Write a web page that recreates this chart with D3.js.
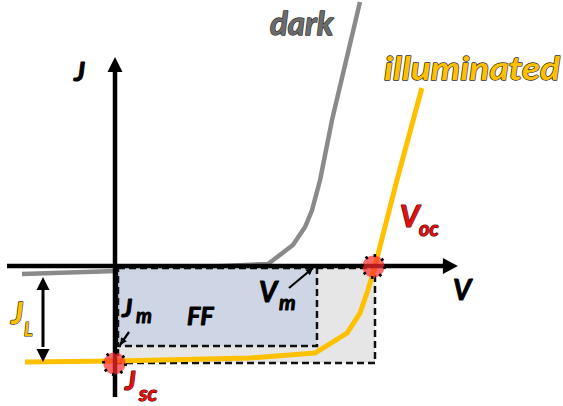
<!DOCTYPE html>
<html>
<head>
<meta charset="utf-8">
<script src="https://cdn.jsdelivr.net/npm/d3@7"></script>
<style>
  html, body { margin: 0; padding: 0; background: #fff; }
  svg { display: block; }
  text { font-family: Lato, "Open Sans", sans-serif; font-weight: 700; font-style: italic; }
</style>
</head>
<body>
<svg id="chart" width="563" height="406"></svg>
<script>
// Dark J-V curve (V, J), normalised so Voc = 1 and Jsc = -1
const darkV = [-0.363, 0, 0.587, 0.683, 0.730, 0.757, 0.788, 0.834, 0.942];
const darkJ = [-0.082, -0.052, 0.021, 0.216, 0.402, 0.577, 0.887, 1.505, 2.722];

// Illuminated J-V curve
const illumV = [-0.351, 0, 0.517, 0.768, 0.892, 0.942, 0.973, 1.0, 1.085, 1.181];
const illumJ = [-0.990, -0.979, -0.948, -0.897, -0.691, -0.485, -0.247, 0, 0.887, 1.835];

// Characteristic points
const Voc = 1.0, Jsc = -1.0;
const Vm = 0.776, Jm = -0.825;

// Axis extents in data units
const vAxisExtent = [-0.421, 1.320];
const jAxisExtent = [-1.351, 2.155];

const svg = d3.select("#chart");
const x = d3.scaleLinear().domain([0, 1]).range([116, 375]);
const y = d3.scaleLinear().domain([0, -1]).range([266, 363]);

const line = d3.line().x(d => x(d[0])).y(d => y(d[1]));
const darkPts = d3.zip(darkV, darkJ);
const illumPts = d3.zip(illumV, illumJ);

// dark curve (drawn beneath the power rectangles)
svg.append("path").attr("d", line(darkPts))
  .attr("fill", "none").attr("stroke", "#8a8a8a").attr("stroke-width", 4.5)
  .attr("stroke-linejoin", "round");

// maximum-power and ideal rectangles
const inset = 2;
svg.append("rect")
  .attr("x", x(0) + inset).attr("y", y(0) + inset)
  .attr("width", x(Voc) - x(0) - inset).attr("height", y(Jsc) - y(0) - inset)
  .attr("fill", "#e3e3e3").attr("fill-opacity", 0.9)
  .attr("stroke", "#111").attr("stroke-width", 2.5).attr("stroke-dasharray", "7,4");
svg.append("rect")
  .attr("x", x(0) + inset).attr("y", y(0) + inset)
  .attr("width", x(Vm) - x(0) - inset).attr("height", y(Jm) - y(0) - inset)
  .attr("fill", "#c9d2e5").attr("fill-opacity", 0.85)
  .attr("stroke", "#111").attr("stroke-width", 2.5).attr("stroke-dasharray", "7,4");

// illuminated curve
svg.append("path").attr("d", line(illumPts))
  .attr("fill", "none").attr("stroke", "#ffc000").attr("stroke-width", 5)
  .attr("stroke-linejoin", "round");

// axes with arrowheads
const ax = svg.append("g").attr("fill", "#000");
ax.append("line")
  .attr("x1", x(vAxisExtent[0])).attr("x2", x(vAxisExtent[1]) - 12)
  .attr("y1", y(0)).attr("y2", y(0))
  .attr("stroke", "#000").attr("stroke-width", 4.5);
ax.append("path").attr("d", (() => {
  const tx = x(vAxisExtent[1]), ty = y(0);
  return `M${tx},${ty} L${tx - 15},${ty - 8} L${tx - 15},${ty + 8} Z`;
})());
ax.append("line")
  .attr("x1", x(0) - 1).attr("x2", x(0) - 1)
  .attr("y1", y(jAxisExtent[0])).attr("y2", y(jAxisExtent[1]) + 12)
  .attr("stroke", "#000").attr("stroke-width", 4.5);
ax.append("path").attr("d", (() => {
  const tx = x(0) - 1, ty = y(jAxisExtent[1]);
  return `M${tx},${ty} L${tx - 7.5},${ty + 15} L${tx + 7.5},${ty + 15} Z`;
})());

// JL double-headed arrow
const jlX = 43;
svg.append("line").attr("x1", jlX).attr("x2", jlX)
  .attr("y1", y(0) + 20).attr("y2", y(Jsc) - 16)
  .attr("stroke", "#000").attr("stroke-width", 3);
svg.append("path").attr("fill", "#000")
  .attr("d", `M${jlX},${y(0) + 11} L${jlX - 6.5},${y(0) + 24} L${jlX + 6.5},${y(0) + 24} Z`);
svg.append("path").attr("fill", "#000")
  .attr("d", `M${jlX},${y(Jsc) - 1} L${jlX - 6.5},${y(Jsc) - 14} L${jlX + 6.5},${y(Jsc) - 14} Z`);

// small pointer arrows
function pointer(x1, y1, x2, y2) {
  svg.append("line").attr("x1", x1).attr("y1", y1).attr("x2", x2).attr("y2", y2)
    .attr("stroke", "#000").attr("stroke-width", 2.2);
  const a = Math.atan2(y2 - y1, x2 - x1), L = 7, W = 3.5;
  const bx = x2 - L * Math.cos(a), by = y2 - L * Math.sin(a);
  svg.append("path").attr("fill", "#000")
    .attr("d", `M${x2},${y2} L${bx + W * Math.sin(a)},${by - W * Math.cos(a)} L${bx - W * Math.sin(a)},${by + W * Math.cos(a)} Z`);
}
pointer(129, 332, 120, 345);
pointer(289, 288, 313, 268);

// Jsc and Voc markers
[[0, Jsc], [Voc, 0]].forEach(([v, j]) => {
  svg.append("circle").attr("cx", x(v) - 1.5).attr("cy", y(j) + 0.5).attr("r", 11)
    .attr("fill", "#ff2a2a").attr("fill-opacity", 0.7)
    .attr("stroke", "#000").attr("stroke-width", 3).attr("stroke-dasharray", "2.5,6.1");
});

// labels (outlined for a heavier look)
function label(txt, px, py, size, fill, stroke, sw, extra) {
  const t = svg.append("text").attr("x", px).attr("y", py)
    .attr("font-size", size).attr("fill", fill).text(txt)
    .attr("stroke", stroke).attr("stroke-width", sw)
    .attr("stroke-linejoin", "round").attr("paint-order", "stroke");
  if (extra) extra(t);
  return t;
}
const ink = "#000", outline = "#2e2e2e", redLine = "#4a0000";
label("dark", 270, 35, 33, "#6b6b6b", outline, 1.3);
label("illuminated", 384, 80, 33, "#ffc000", outline, 1.3,
  t => t.attr("textLength", 176).attr("lengthAdjust", "spacingAndGlyphs"));
label("J", 74, 81, 27, ink, ink, 1);
label("V", 453, 300, 28, ink, ink, 1);
label("FF", 187, 325, 25, ink, ink, 1);
label("J", 122, 317, 25, ink, ink, 1);
label("m", 136, 323, 20, ink, ink, 0.9);
label("V", 259, 302, 28, ink, ink, 1);
label("m", 279, 310, 21, ink, ink, 0.9);
label("J", 11, 324, 30, "#ffc000", outline, 1.3);
label("L", 24, 336, 18, "#ffc000", outline, 1.2);
label("J", 125, 390, 26, "#e01010", redLine, 1.2);
label("sc", 139, 401, 21, "#e01010", redLine, 1.2);
label("V", 400, 227, 30, "#e01010", redLine, 1.2);
label("oc", 419, 236, 20, "#e01010", redLine, 1.2);
</script>
</body>
</html>
